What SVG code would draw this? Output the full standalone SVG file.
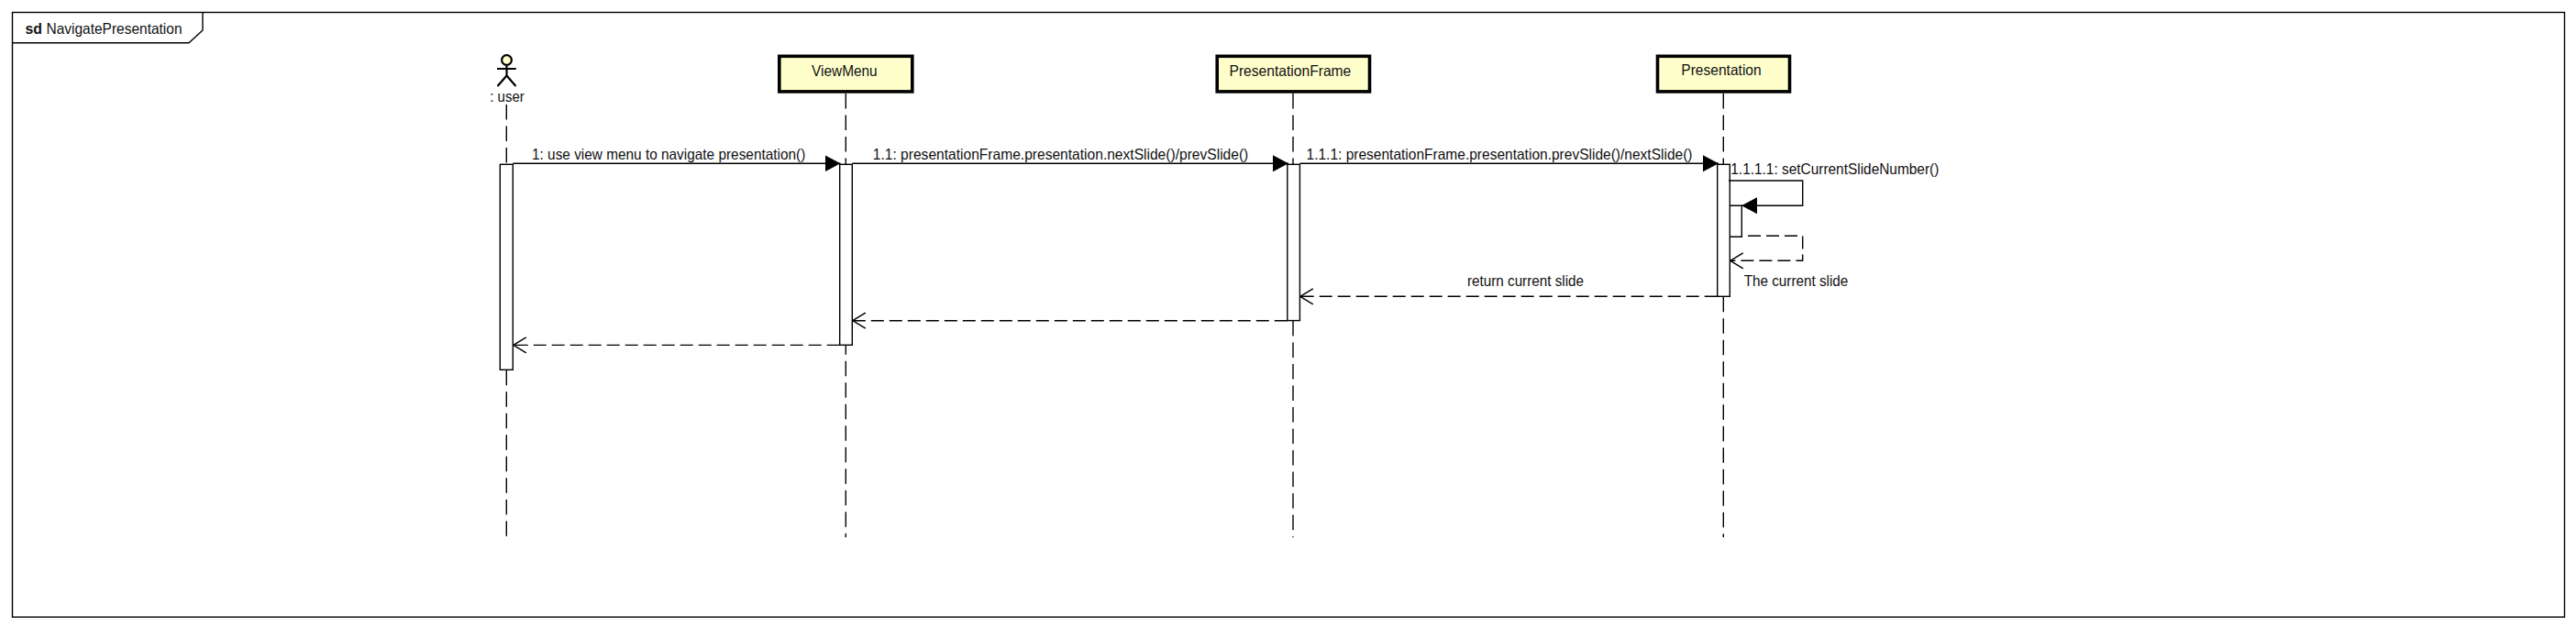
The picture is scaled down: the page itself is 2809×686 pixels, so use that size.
<svg xmlns="http://www.w3.org/2000/svg" width="2809" height="686" viewBox="0 0 2809 686">
  <style>
    text { font-family: "Liberation Sans", Arial, sans-serif; font-size: 16.5px; fill: #111; }
    .frame { fill: #fff; stroke: #000; stroke-width: 1.4; }
    .tab { fill: none; stroke: #000; stroke-width: 1.4; }
    .box { fill: #ffffcc; stroke: #000; stroke-width: 3.6; }
    .life { fill: none; stroke: #000; stroke-width: 1.4; stroke-dasharray: 16.5 7; }
    .act { fill: #fff; stroke: #000; stroke-width: 1.4; }
    .call { fill: none; stroke: #000; stroke-width: 1.4; marker-end: url(#solid); }
    .ret { fill: none; stroke: #000; stroke-width: 1.4; stroke-dasharray: 14 6; marker-end: url(#open); }
    .stick { fill: none; stroke: #000; stroke-width: 2.2; }
  </style>
  <defs>
    <marker id="solid" markerUnits="userSpaceOnUse" markerWidth="18" markerHeight="20" refX="17" refY="10" orient="auto">
      <path d="M0 1 L17 10 L0 19 Z" fill="#000"/>
    </marker>
    <marker id="open" markerUnits="userSpaceOnUse" markerWidth="18" markerHeight="20" refX="17" refY="10" orient="auto">
      <path d="M3 1.5 L17 10 L3 18.5" fill="none" stroke="#000" stroke-width="1.4"/>
    </marker>
  </defs>
  <rect width="2809" height="686" fill="#fff"/>
  <g id="frame">
    <rect class="frame" x="13.5" y="13.5" width="2783" height="659.5"/>
    <path class="tab" d="M13.5 46.7 H206 L221 33 V13.5"/>
    <text x="27.5" y="36.7" font-weight="bold" textLength="18.5" lengthAdjust="spacingAndGlyphs">sd</text>
    <text x="50.5" y="36.7" textLength="148" lengthAdjust="spacingAndGlyphs">NavigatePresentation</text>
  </g>
  <g id="lifelines">
    <path class="life" d="M552.3 114 V179"/>
    <path class="life" d="M552.3 403.7 V585"/>
    <path class="life" d="M922.3 102 V179"/>
    <path class="life" stroke-dashoffset="6.5" d="M922.3 376.7 V586"/>
    <path class="life" d="M1410 102 V179"/>
    <path class="life" d="M1410 350 V586"/>
    <path class="life" d="M1879.3 102 V179"/>
    <path class="life" d="M1879.3 323.7 V586"/>
  </g>
  <g id="user">
    <circle cx="552.5" cy="65.5" r="5.4" fill="#ffffcc" stroke="#000" stroke-width="2.2"/>
    <path class="stick" d="M552.5 71 V82.5 M542 75 H562.8 M542.5 94 L552.5 82.5 L562.5 94"/>
    <text x="534.3" y="110.7" textLength="37.4" lengthAdjust="spacingAndGlyphs">: user</text>
    <rect class="act" x="545.3" y="179.3" width="14" height="224"/>
  </g>
  <g id="viewmenu">
    <rect class="box" x="849.8" y="61.3" width="145" height="38.6"/>
    <text x="885" y="82.6" textLength="71.7" lengthAdjust="spacingAndGlyphs">ViewMenu</text>
    <rect class="act" x="915.7" y="179.3" width="13.6" height="197"/>
  </g>
  <g id="presentationframe">
    <rect class="box" x="1327.2" y="61.3" width="166.3" height="38.6"/>
    <text x="1340.5" y="82.6" textLength="132.8" lengthAdjust="spacingAndGlyphs">PresentationFrame</text>
    <rect class="act" x="1403.8" y="179.3" width="13.6" height="170.3"/>
  </g>
  <g id="presentation">
    <rect class="box" x="1807.5" y="61.3" width="144" height="38.6"/>
    <text x="1833.3" y="82.3" textLength="87.4" lengthAdjust="spacingAndGlyphs">Presentation</text>
    <rect class="act" x="1872.7" y="179.3" width="13.6" height="144"/>
    <path class="tab" d="M1886.3 224.3 H1899.3 V258.3 H1886.3"/>
  </g>
  <g id="connectors">
    <path class="call" d="M559.3 178.3 H916.5"/>
    <path class="call" d="M929.3 178.3 H1405"/>
    <path class="call" d="M1417.4 178.3 H1874"/>
    <path class="call" d="M1885 197 H1965.7 V224.3 H1899"/>
    <path class="ret" d="M1906 257.3 H1965.7 V284.3 H1886.8"/>
    <path class="ret" d="M1872.7 323.3 H1417.8"/>
    <path class="ret" d="M1403.8 349.7 H929.8"/>
    <path class="ret" d="M915.7 376.4 H559.8"/>
  </g>
  <g id="labels">
    <text x="580" y="174.3" textLength="298.3" lengthAdjust="spacingAndGlyphs">1: use view menu to navigate presentation()</text>
    <text x="951.8" y="174.3" textLength="409.5" lengthAdjust="spacingAndGlyphs">1.1: presentationFrame.presentation.nextSlide()/prevSlide()</text>
    <text x="1424.5" y="174.3" textLength="421" lengthAdjust="spacingAndGlyphs">1.1.1: presentationFrame.presentation.prevSlide()/nextSlide()</text>
    <text x="1887.3" y="190" textLength="227" lengthAdjust="spacingAndGlyphs">1.1.1.1: setCurrentSlideNumber()</text>
    <text x="1600" y="311.7" textLength="127" lengthAdjust="spacingAndGlyphs">return current slide</text>
    <text x="1901.7" y="311.7" textLength="113.6" lengthAdjust="spacingAndGlyphs">The current slide</text>
  </g>
</svg>
